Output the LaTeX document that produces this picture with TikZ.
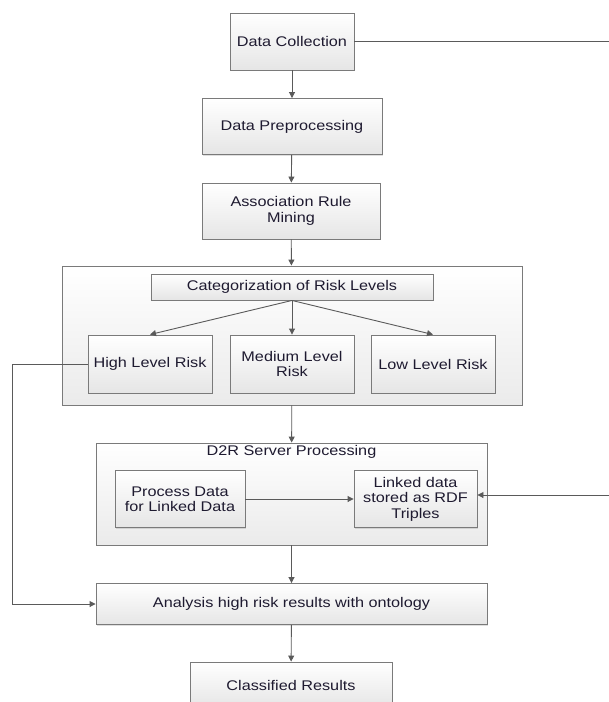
\documentclass[tikz,border=0pt]{standalone}
\usepackage{fontspec}
\setmainfont{Liberation Sans}
\newfontfamily\boxfont[FakeStretch=1.16]{Liberation Sans}
\usetikzlibrary{arrows.meta,shadows}
\definecolor{edge}{HTML}{7A7A7A}
\definecolor{link}{HTML}{5A5A5A}
\definecolor{ink}{HTML}{1E1A30}
\tikzset{
  boxtext/.style={font=\boxfont\fontsize{14}{15.5}\selectfont, text=ink},
  procbox/.style={draw=edge, line width=0.9pt, top color=white, bottom color=black!10,
    drop shadow={shadow xshift=1.2pt, shadow yshift=-1.2pt, opacity=0.25},
    align=center, inner sep=2pt, boxtext},
  groupbox/.style={draw=edge, line width=0.9pt, top color=white, bottom color=black!8,
    drop shadow={shadow xshift=1.2pt, shadow yshift=-1.2pt, opacity=0.25}},
  flow/.style={draw=link, line width=0.9pt, -{Triangle[length=6pt,width=6pt]}},
  plain/.style={draw=link, line width=0.9pt}
}
\begin{document}
\begin{tikzpicture}[x=1pt,y=-1pt]
\useasboundingbox (0,0) rectangle (609,702);

% main chain
\node[procbox, minimum width=124pt, minimum height=57pt] (collect) at (292,41.5) {Data Collection};
\node[procbox, minimum width=180pt, minimum height=56pt] (prep) at (292,126.5) {Data Preprocessing};
\node[procbox, minimum width=178pt, minimum height=56pt] (arm) at (291,211) {Association Rule\\Mining};

% risk categorisation group
\node[groupbox, minimum width=460pt, minimum height=139pt] (riskgrp) at (292,335.5) {};
\node[procbox, minimum width=282pt, minimum height=26pt] (cat) at (292,287) {Categorization of Risk Levels};
\node[procbox, minimum width=124pt, minimum height=58pt] (high) at (150,364) {High Level Risk};
\node[procbox, minimum width=124pt, minimum height=58pt] (med) at (292,364) {Medium Level\\Risk};
\node[procbox, minimum width=124pt, minimum height=58pt] (low) at (433,364) {Low Level Risk};

% D2R group
\node[groupbox, minimum width=391pt, minimum height=102pt] (d2r) at (291.5,494) {};
\node[anchor=north, inner sep=0pt, boxtext] (d2rtitle) at (d2r.north) [yshift=-3pt] {D2R Server Processing};
\node[procbox, minimum width=130pt, minimum height=57pt] (proc) at (180,499) {Process Data\\for Linked Data};
\node[procbox, minimum width=123pt, minimum height=57pt] (rdf) at (415.5,499) {Linked data\\stored as RDF\\Triples};

\node[procbox, minimum width=391pt, minimum height=41pt] (analysis) at (291.5,604) {Analysis high risk results with ontology};
\node[procbox, minimum width=202pt, minimum height=46pt] (classified) at (291,685) {Classified Results};

% free ends of the long side lines
\coordinate (rtop) at (609,41.5);
\coordinate (rmid) at (609,495);
\coordinate (lcorner) at (12,364);

% connectors
\draw[flow] (collect) -- (prep);
\draw[flow] (prep) -- (arm);
\draw[flow] (arm) -- (riskgrp);
\draw[flow] (cat.south) -- (high.north);
\draw[flow] (cat.south) -- (med.north);
\draw[flow] (cat.south) -- (low.north);
\draw[flow] (riskgrp) -- (d2r);
\draw[flow] (proc) -- (rdf);
\draw[flow] (d2r) -- (analysis);
\draw[flow] (analysis) -- (classified);
\draw[plain] (collect.east) -- (rtop);
\draw[flow] (rmid) -- (rdf.east |- rmid);
\draw[flow] (high.west) -- (lcorner) |- (analysis.west);
\end{tikzpicture}
\end{document}
